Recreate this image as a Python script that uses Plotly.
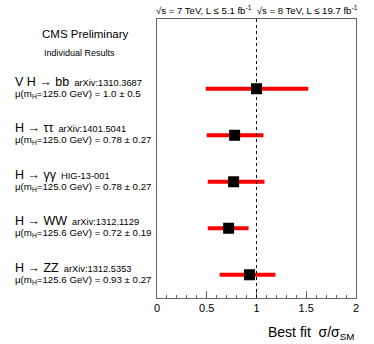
import plotly.graph_objects as go

# channels, top to bottom
processes = ['V H → bb', 'H → ττ', 'H → γγ', 'H → WW', 'H → ZZ']
references = ['arXiv:1310.3687', 'arXiv:1401.5041', 'HIG-13-001', 'arXiv:1312.1129', 'arXiv:1312.5353']
mass_labels = ['125.0', '125.0', '125.0', '125.6', '125.6']
mu_text = ['1.0 ± 0.5', '0.78 ± 0.27', '0.78 ± 0.27', '0.72 ± 0.19', '0.93 ± 0.27']
mu_best = [1.00, 0.78, 0.77, 0.72, 0.93]
mu_low = [0.49, 0.50, 0.51, 0.51, 0.63]
mu_high = [1.52, 1.07, 1.08, 0.92, 1.19]
y_pos = [4.5, 3.5, 2.5, 1.5, 0.5]

FONT = 'Liberation Sans, Arial, sans-serif'

fig = go.Figure()

fig.add_trace(go.Scatter(
    x=mu_best,
    y=y_pos,
    mode='markers',
    marker=dict(symbol='square', size=11, color='black'),
    error_x=dict(
        type='data',
        symmetric=False,
        array=[h - b for h, b in zip(mu_high, mu_best)],
        arrayminus=[b - l for b, l in zip(mu_best, mu_low)],
        color='red',
        thickness=4,
        width=0,
    ),
    showlegend=False,
    hoverinfo='skip',
))

# reference line at the SM expectation
fig.add_vline(x=1, line=dict(color='black', width=1, dash='dot'))

# channel labels left of the plot, two lines each
for proc, ref, mh, mu, y in zip(processes, references, mass_labels, mu_text, y_pos):
    fig.add_annotation(
        xref='paper', yref='y', x=-0.724, y=y, yshift=7,
        xanchor='left', yanchor='middle', align='left', showarrow=False,
        text=(f"<span style='font-size:12.5px'>{proc}</span>"
              f"  <span style='font-size:9.3px'>{ref}</span>"),
        font=dict(family=FONT, size=9, color='black'),
    )
    fig.add_annotation(
        xref='paper', yref='y', x=-0.724, y=y, yshift=-5,
        xanchor='left', yanchor='middle', align='left', showarrow=False,
        text=f"μ(m<sub>H</sub>={mh} GeV) = {mu}",
        font=dict(family=FONT, size=9.7, color='black'),
    )

fig.add_annotation(
    xref='x', yref='paper', x=1, y=1.032, xanchor='center', yanchor='middle',
    showarrow=False,
    text='√s = 7 TeV, L ≤ 5.1 fb<sup>-1</sup>  √s = 8 TeV, L ≤ 19.7 fb<sup>-1</sup>',
    font=dict(family=FONT, size=9.6, color='black'),
)
fig.add_annotation(
    xref='paper', yref='paper', x=-0.59, y=0.945, xanchor='left', yanchor='middle',
    showarrow=False, text='CMS Preliminary',
    font=dict(family=FONT, size=11.5, color='black'),
)
fig.add_annotation(
    xref='paper', yref='paper', x=-0.58, y=0.878, xanchor='left', yanchor='middle',
    showarrow=False, text='Individual Results',
    font=dict(family=FONT, size=9, color='black'),
)
fig.add_annotation(
    xref='paper', yref='paper', x=1.0, y=-0.085, xanchor='right', yanchor='top',
    showarrow=False, text='Best fit  σ/σ<sub>SM</sub>',
    font=dict(family=FONT, size=14, color='black'),
)

fig.update_xaxes(
    range=[0, 2],
    tickvals=[0, 0.5, 1, 1.5, 2],
    ticktext=['0', '0.5', '1', '1.5', '2'],
    ticks='inside', ticklen=7, tickcolor='#666',
    minor=dict(dtick=0.1, ticks='inside', ticklen=3, tickcolor='#666'),
    showline=True, linecolor='#666', linewidth=1, mirror=True,
    showgrid=False, zeroline=False,
    tickfont=dict(family=FONT, size=11, color='black'),
)
fig.update_yaxes(
    range=[0, 6],
    showticklabels=False, ticks='',
    showline=True, linecolor='#666', linewidth=1, mirror=True,
    showgrid=False, zeroline=False,
)

fig.update_layout(
    width=374, height=344,
    margin=dict(l=157, r=18, t=19, b=46),
    plot_bgcolor='white', paper_bgcolor='white',
    font=dict(family=FONT),
)

# drop the browser's default body margin so the figure sits at the page corner
fig.write_html("out.html", config={'displayModeBar': False},
               post_script="document.body.style.margin='0';")
